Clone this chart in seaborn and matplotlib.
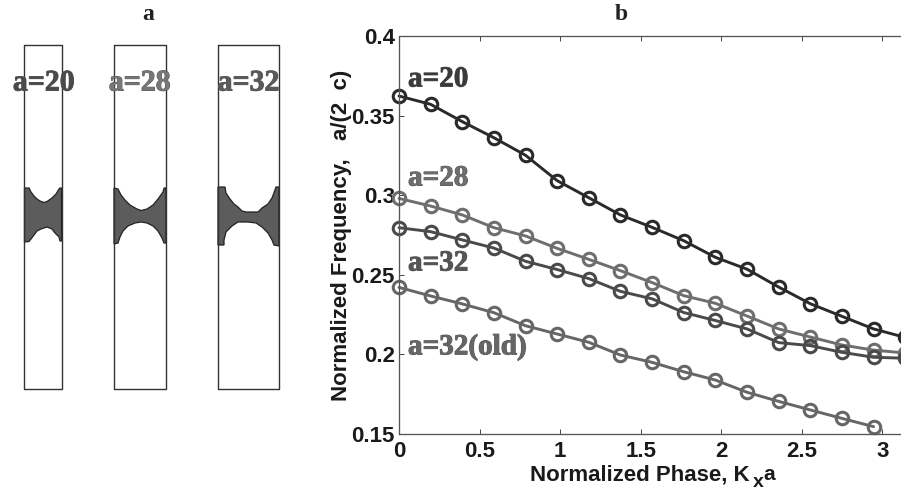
import matplotlib
matplotlib.use('Agg')
import matplotlib.pyplot as plt
import matplotlib.patheffects as pe
import pandas as pd
import seaborn as sns

sns.set_theme(style='white')
plt.rcParams['font.family'] = ['Liberation Sans', 'DejaVu Sans']

phase = [0, 0.196, 0.393, 0.589, 0.785, 0.982, 1.178, 1.374, 1.571, 1.767, 1.963, 2.16, 2.356, 2.553, 2.749, 2.945, 3.14]
a20 = [.3623, .3571, .3462, .3361, .3251, .3091, .2984, .2876, .2798, .2714, .2610, .2535, .2423, .2318, .2239, .2160, .2107]
a28 = [.298, .2932, .2876, .2796, .2744, .2666, .2597, .2526, .2451, .2369, .2321, .2241, .2160, .2109, .2059, .2027, .2009]
a32 = [.2796, .2771, .2719, .2668, .2585, .2533, .2476, .2396, .2349, .2263, .2213, .216, .2074, .2055, .2013, .1982, .1976]
a32_old = [.2421, .2367, .2317, .2262, .218, .2128, .2076, .1996, .195, .1891, .1839, .1762, .1705, .1651, .1598, .1546]

series = [(a20, '#2a2a2a'), (a28, '#6e6e6e'), (a32, '#4a4a4a'), (a32_old, '#666666')]
yticks = [0.15, 0.2, 0.25, 0.3, 0.35, 0.4]
ytick_labels = ['0.15', '0.2', '0.25', '0.3', '0.35', '0.4']
xticks = [0, 0.5, 1, 1.5, 2, 2.5, 3]
xtick_labels = ['0', '0.5', '1', '1.5', '2', '2.5', '3']

# panel a, traced in picture pixels
cell_x = [(24, 61.5), (113.5, 166), (218, 279)]
cell_top, cell_bottom = 45, 388.5
cell_names = ['a=20', 'a=28', 'a=32']
cell_colors = ['#4a4a4a', '#777777', '#5a5a5a']
hole20_x = [24.5, 29, 31, 34, 37, 40, 44, 47, 52, 56, 59, 60, 61.5, 61.5, 60, 59, 55, 52, 47, 41, 37, 34, 31, 29, 24.5]
hole20_y = [188, 188, 192, 196, 199, 201, 202.5, 201.5, 198, 194, 189, 188, 188, 241, 241, 237, 233, 229, 227, 229, 231, 235, 239, 241.5, 242]
hole28_x = [114, 118, 121, 125, 130, 137, 141, 147, 153, 158, 163, 164, 166, 166, 164, 162, 158, 153, 147, 141, 135, 128, 123, 120, 118, 114]
hole28_y = [188, 189, 195, 200, 205, 209, 210.5, 209, 205, 199, 192, 188, 188, 243, 243, 238, 231, 226, 223, 222, 223, 226, 231, 237, 243, 244]
hole32_x = [218, 225, 226, 230, 234, 238, 242, 246, 258, 262, 268, 272, 275, 276, 279, 279, 274, 272, 268, 262, 256, 248, 238, 232, 226, 224, 224, 218]
hole32_y = [187, 187, 193, 199, 204, 207, 211, 212, 212, 208, 204, 198, 190, 187, 187, 246, 245, 240, 233, 227, 223, 222, 222, 226, 232, 240, 245, 245]
shapes = [(hole20_x, hole20_y), (hole28_x, hole28_y), (hole32_x, hole32_y)]

W, H = 901, 492
fig = plt.figure(figsize=(W / 100, H / 100), dpi=100)

# full figure layer in pixel units, for panel a and the labels
bg = fig.add_axes([0, 0, 1, 1])
bg.set_xlim(0, W)
bg.set_ylim(H, 0)
bg.axis('off')

heavy = [pe.withStroke(linewidth=0.7, foreground='#555555')]

for (x0, x1), (sx, sy), name, col in zip(cell_x, shapes, cell_names, cell_colors):
    bg.fill(sx, sy, color='#5c5c5c', ec='#222222', lw=0.9)
    bg.plot([x0, x1, x1, x0, x0], [cell_top, cell_top, cell_bottom, cell_bottom, cell_top], color='#333333', lw=1.0)
    bg.text((x0 + x1) / 2 + (1 if name == 'a=20' else 0), 83, name, family='Liberation Serif', weight='bold',
            fontsize=21.5, color=col, ha='center', va='center', zorder=5, path_effects=heavy)

bg.text(148, 15, 'a', family='Liberation Serif', weight='bold', fontsize=17, color='#222222', ha='center', va='center')
bg.text(621, 15, 'b', family='Liberation Serif', weight='bold', fontsize=17, color='#222222', ha='center', va='center')

# panel b
ax = fig.add_axes([399 / W, 1 - 434 / H, 506 / W, 398 / H])
ax.patch.set_alpha(0)
for vals, col in series:
    df = pd.DataFrame({'phase': phase[:len(vals)], 'freq': vals})
    sns.lineplot(data=df, x='phase', y='freq', color=col, lw=2.1, marker='o', ms=9, mfc='none',
                 mec=col, mew=2.2, estimator=None, sort=False, legend=False, ax=ax, clip_on=False)

ax.set_xlim(0, 3.14)
ax.set_ylim(0.15, 0.4)
ax.set_xticks(xticks, xtick_labels)
ax.set_yticks(yticks, ytick_labels)
ax.tick_params(axis='both', direction='in', length=3.5, width=0.7, color='#444444', labelcolor='#1a1a1a',
               labelsize=16, pad=3, bottom=True, left=True, top=True)
ax.tick_params(axis='x', pad=5)
for lab in ax.get_xticklabels() + ax.get_yticklabels():
    lab.set_fontweight('bold')
for s in ax.spines.values():
    s.set_color('#555555')
    s.set_linewidth(0.9)
    s.set_linestyle((0, (1, 0.6)))
ax.set_xlabel('')
ax.set_ylabel('')

label_kw = dict(weight='bold', color='#1a1a1a', va='baseline')
bg.text(530, 480, 'Normalized Phase, K', fontsize=16, ha='left', **label_kw)
bg.text(753, 487, 'x', fontsize=14, ha='left', **label_kw)
bg.text(763, 480, 'a', fontsize=15, ha='left', **label_kw)
bg.text(341, 235, 'Normalized Frequency,   a/(2  c)', weight='bold', fontsize=16, color='#1a1a1a',
        rotation=90, ha='center', va='center')

for txt, px, py, col in [('a=20', 408, 79, '#3a3a3a'), ('a=28', 408, 178, '#6e6e6e'),
                         ('a=32', 408, 263, '#555555'), ('a=32(old)', 408, 347, '#666666')]:
    bg.text(px, py, txt, family='Liberation Serif', weight='bold', fontsize=21, color=col, ha='left', va='center',
            zorder=6, path_effects=heavy)
bg.set_zorder(3)
bg.patch.set_alpha(0)

fig.savefig('out.png', dpi=100)
